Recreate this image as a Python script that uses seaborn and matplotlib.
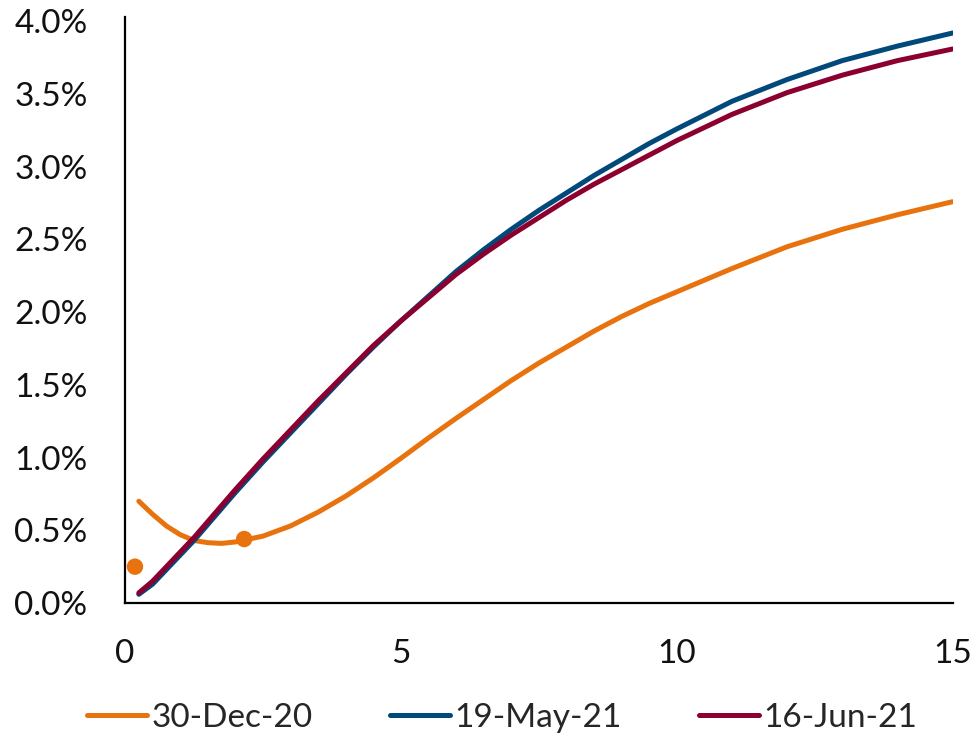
import pandas as pd
import numpy as np
import matplotlib
matplotlib.use('Agg')
import matplotlib.pyplot as plt
from matplotlib.ticker import FuncFormatter
import seaborn as sns

# maturity in years and yields in percent
maturity = [0.25, 0.5, 0.75, 1, 1.25, 1.5, 1.75, 2, 2.5, 3, 3.5, 4, 4.5, 5, 5.5, 6, 6.5,
            7, 7.5, 8, 8.5, 9, 9.5, 10, 11, 12, 13, 14, 15]
dec20 = [0.70, 0.61, 0.53, 0.47, 0.43, 0.415, 0.41, 0.42, 0.46, 0.53, 0.625, 0.735, 0.86, 0.995, 1.135,
         1.27, 1.40, 1.53, 1.65, 1.76, 1.87, 1.97, 2.06, 2.14, 2.30, 2.45, 2.57, 2.67, 2.76]
may21 = [0.06, 0.13, 0.23, 0.33, 0.43, 0.54, 0.65, 0.76, 0.97, 1.17, 1.37, 1.57, 1.76, 1.94, 2.11,
         2.28, 2.43, 2.57, 2.70, 2.82, 2.94, 3.05, 3.16, 3.26, 3.45, 3.60, 3.73, 3.83, 3.92]
jun21 = [0.07, 0.15, 0.25, 0.35, 0.45, 0.56, 0.67, 0.78, 0.99, 1.19, 1.39, 1.58, 1.77, 1.94, 2.10,
         2.26, 2.40, 2.53, 2.65, 2.77, 2.88, 2.98, 3.08, 3.18, 3.36, 3.51, 3.63, 3.73, 3.81]
series_names = ['30-Dec-20', '19-May-21', '16-Jun-21']

# observed points for 30-Dec-20
dot_x = [0.18, 2.16]
dot_y = [0.25, 0.44]

colors = ['#E8730E', '#00497A', '#8C0030']

df = pd.DataFrame({
    'maturity': maturity * 3,
    'yield': dec20 + may21 + jun21,
    'curve': [series_names[0]] * len(maturity) + [series_names[1]] * len(maturity) + [series_names[2]] * len(maturity),
})
dots = pd.DataFrame({'maturity': dot_x, 'yield': dot_y})

sns.set_style('white')
plt.rcParams['font.family'] = ['Lato', 'DejaVu Sans']

fig = plt.figure(figsize=(9.73, 7.43), dpi=100)
ax = fig.add_axes([0.1285, 0.1884, 0.8505, 0.7887])

sns.lineplot(data=df, x='maturity', y='yield', hue='curve', palette=colors,
             hue_order=series_names, linewidth=3.6, ax=ax, legend=True,
             solid_capstyle='round', solid_joinstyle='round')
sns.scatterplot(data=dots, x='maturity', y='yield', color=colors[0], s=140,
                edgecolor='none', ax=ax, legend=False, zorder=5)

ax.set_xlim(0, 15)
ax.set_ylim(0, 4.03)
ax.set_xticks([0, 5, 10, 15])
ax.set_yticks(np.arange(0, 4.01, 0.5))
ax.yaxis.set_major_formatter(FuncFormatter(lambda v, p: '{:.1f}%'.format(v)))
ax.tick_params(axis='both', length=0, labelsize=24, colors='#111111')
ax.tick_params(axis='y', pad=27)
ax.tick_params(axis='x', pad=26)
ax.set_xlabel('')
ax.set_ylabel('')

for s in ['top', 'right']:
    ax.spines[s].set_visible(False)
for s in ['left', 'bottom']:
    ax.spines[s].set_color('black')
    ax.spines[s].set_linewidth(1.6)

handles, labels = ax.get_legend_handles_labels()
ax.legend_.remove()
fig.legend(handles, labels, loc='center', bbox_to_anchor=(0.516, 0.034), ncol=3,
           frameon=False, fontsize=24, handlelength=1.8, handletextpad=0.15,
           columnspacing=2.3, borderaxespad=0)

fig.savefig('out.png', dpi=100)
